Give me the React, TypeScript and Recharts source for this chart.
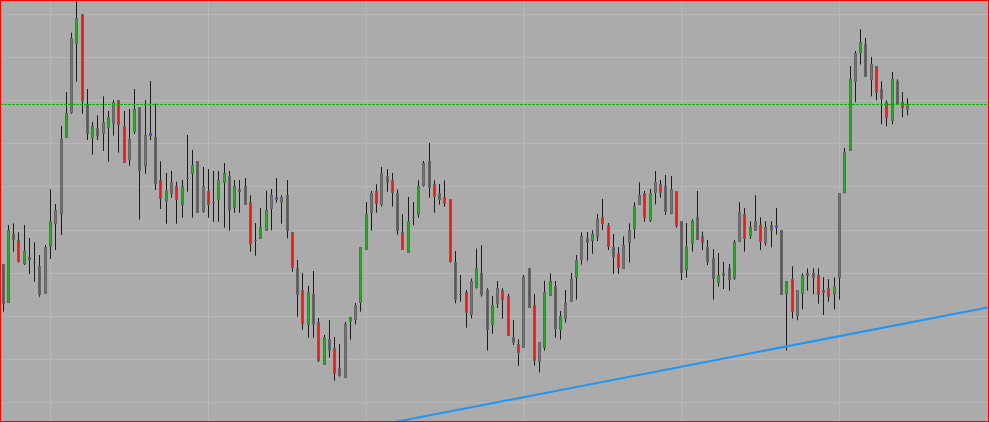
import { ComposedChart, Bar, XAxis, YAxis, CartesianGrid, ReferenceLine } from "recharts"

// price (units: px above the bottom edge)
const open = [
  157.7, 120.3, 187.7, 182, 159.3, 162.5, 159.7, 156, 129.3, 176.3,
  198.7, 209.3, 284.7, 310.3, 379.3, 407.7, 317.7, 284.7, 293.7, 288.7,
  295.3, 299.3, 321.7, 295.7, 263.3, 291.3, 314.7, 256.3, 287.2, 285,
  241.7, 222.3, 228.7, 236, 217.7, 243.7, 248.7, 260.7, 211, 231,
  219.7, 222.7, 239.7, 246, 215.3, 231.2, 236, 219.7, 181.7, 183.7,
  191.7, 213.7, 223.2, 219.7, 226.7, 189.7, 153.7, 131.7, 97.7, 128,
  100, 58.3, 82.7, 73.7, 53.7, 45.3, 101.3, 103.3, 120.3, 172.7,
  209.7, 230.7, 217.7, 245.7, 241.7, 228.7, 189.7, 170.3, 204.7, 207.7,
  237, 260.7, 237.7, 229, 224.7, 222.7, 159.7, 127.7, 129.7, 107.7,
  135.3, 148.7, 131.7, 97.7, 118.7, 131.7, 126, 84.7, 77.7, 75.3,
  154, 117, 60.7, 75.3, 127.3, 135.7, 92.7, 103.7, 120.7, 144.7,
  163.3, 183.7, 181.7, 185.7, 204.7, 197, 174.7, 168.7, 153.7, 179.7,
  194.3, 217.7, 228.7, 202, 230.3, 237.7, 235.7, 209.3, 230.7, 200.7,
  153.3, 179, 204.7, 185.7, 174.7, 163.7, 140.3, 147.2, 153.7, 144.3,
  181.3, 207.7, 187.3, 191.7, 197, 179.7, 197, 195.5, 191.7, 129.3,
  142.7, 107, 129.3, 147.2, 148.7, 146.7, 130.5, 133.7, 127.7, 144.7,
  230.3, 271.7, 340.7, 370.3, 377.7, 342.7, 355.7, 332.7, 319.7, 301.7,
  340.7, 319.7, 312.7,
]

const high = [
  158, 197, 198.7, 189.7, 197, 184, 179.7, 167, 177, 232.7,
  218, 296, 330, 389.3, 422, 407.7, 333, 300, 306.7, 325.7,
  311, 322, 321.7, 311, 313, 333, 314.7, 322, 341, 318.3,
  260.7, 249, 251, 240.3, 242, 287, 272, 260.7, 255, 253,
  251, 251, 259, 251, 242, 242, 244, 226.7, 199, 214,
  231.3, 233, 244, 226.7, 242, 189.7, 162, 149, 136, 151,
  104, 87, 102, 85, 78, 100, 105.3, 119, 174.7, 220,
  231, 237.7, 255, 253, 249, 232.7, 207.7, 225, 220, 241.7,
  261, 279, 241.7, 238, 241.7, 222.7, 171, 147, 132, 143.3,
  173.3, 176.7, 133.7, 126, 141, 133.7, 128, 102, 82.7, 147,
  154, 128, 79.7, 141.3, 148.7, 141, 111, 132, 149, 167,
  189.7, 190, 191.7, 208, 223, 199, 188, 175, 185.7, 198.7,
  219.7, 239.7, 231, 233, 251, 242, 247, 246, 230.7, 200.7,
  199, 202.7, 231, 190.3, 182, 172.7, 169, 160, 158, 182,
  219.7, 214, 200.7, 226.7, 204.7, 200.7, 200.7, 214, 191.7, 141,
  155.7, 131.7, 148.7, 153.7, 153.7, 153.7, 144.7, 142.7, 144.7, 228.7,
  274, 356, 371, 392.7, 384, 365, 355.7, 340.7, 321.7, 350,
  342.7, 330, 323.7,
]

const low = [
  110.3, 120.3, 170.3, 159.3, 157, 148, 140.3, 125.3, 129.3, 163,
  172, 187, 284.7, 308.3, 340.3, 308.3, 282, 267.3, 282, 271,
  260.3, 286.3, 269.3, 260.3, 256.3, 288, 202.3, 248.3, 282, 232,
  213, 198.3, 224.3, 198.3, 204.3, 230.3, 204.3, 209.7, 209.3, 204.3,
  200.3, 200.3, 194.3, 191.3, 209.3, 209.3, 217.7, 170.3, 166.3, 183.7,
  191.7, 191.7, 219.3, 198.3, 183.7, 150.3, 105.3, 92.3, 84.3, 84.3,
  60, 58.3, 64.3, 41.3, 45.3, 45.3, 82.3, 97.7, 110.3, 172.7,
  191.3, 209.3, 215.3, 230.3, 215.3, 187.3, 172.7, 170.3, 196.7, 204.3,
  235.3, 224.3, 209.3, 217.3, 215.3, 159.3, 118.7, 120.3, 94.3, 103.7,
  133.3, 125.3, 71.3, 88.3, 114, 103.3, 86.7, 77, 56.3, 75.3,
  114.7, 56.3, 49.7, 71.3, 127.3, 84.3, 82.3, 99.3, 120.7, 122.3,
  157.3, 161.3, 168.3, 181, 191.7, 172, 148.3, 148.3, 153.7, 159.3,
  183.3, 217.7, 200.3, 200, 217.7, 224.3, 207, 207.7, 194.3, 142,
  144.3, 170.3, 183.3, 172, 157, 122.3, 135.3, 133, 131.3, 142.3,
  181.3, 170.3, 183, 191.7, 172, 176.3, 174.7, 187.3, 127.7, 71.3,
  103.3, 101.7, 112.7, 131.3, 127.7, 118.3, 107, 120.3, 112.7, 122.3,
  228.7, 271.7, 319.7, 357.3, 345.7, 325.7, 321.7, 297.7, 295.7, 297.7,
  318, 304.7, 306.7,
]

const close = [
  118.7, 192, 183.3, 161.3, 171, 163.5, 159.7, 127.7, 175, 201,
  212, 282.7, 308.7, 383.7, 403.7, 322, 288.7, 295.7, 286.7, 299.7,
  305, 320, 297.7, 260.3, 282.7, 313, 252.3, 286.7, 288.2, 239.3,
  224.3, 231, 239.7, 222.7, 236, 243.7, 257, 209.7, 236, 217.7,
  219.7, 241.7, 249, 211.7, 236, 232.2, 217.7, 179.3, 181.7, 194.7,
  212, 226.7, 224.2, 225, 191.7, 155.3, 127.7, 99.3, 129.7, 97.7,
  62, 85, 71.7, 49.3, 47, 98, 105.3, 116.7, 174.7, 207.7,
  229.3, 219.3, 248.7, 239.7, 230.3, 192, 172.7, 200.7, 204.7, 235.7,
  259, 235.3, 226.3, 222.7, 219.3, 161.3, 122.7, 127.7, 110.3, 141,
  153.7, 127.7, 92.7, 116.7, 133.7, 122.7, 86.7, 79.7, 69.7, 145,
  114.7, 62, 79.7, 129.7, 140.7, 94.3, 106, 118.7, 143, 162,
  185.7, 179.7, 187.7, 202.7, 198.7, 176.3, 166.3, 155.3, 176.7, 191.7,
  215.7, 226.7, 204.7, 228.7, 239.7, 230.3, 211.3, 232.7, 196.7, 150.3,
  174.7, 200.7, 183.3, 179.7, 161.3, 144.3, 146.7, 148.2, 142.7, 179.7,
  209.7, 183.7, 194.7, 200.7, 181.3, 194.7, 191.7, 196.5, 127.7, 141,
  110.7, 131.7, 146.7, 148.2, 144.7, 127.7, 131.5, 125.7, 135.7, 228.7,
  269.7, 342.7, 368.7, 379.7, 345.7, 357.7, 329.7, 323.7, 304.7, 342.7,
  318, 314.7, 317.7,
]

const priceGrid = [19.5, 62.5, 105.5, 148.5, 191.5, 235.5, 278.5, 321.5, 364.5, 407.5]
const timeGrid = [10, 40, 70, 100, 130, 160]
const level = 317.5
const trendFrom = { x: 75.47, y: 0 }
const trendTo = { x: 188.4, y: 114.7 }

const data = open.map((o, k) => ({
  i: k + 1,
  open: o,
  high: high[k],
  low: low[k],
  close: close[k],
}))

const BG = "#ababab"
const EDGE = "#666666"

function Candle(props: any) {
  const { x, y, width, height, payload } = props
  if (!payload) return null
  const top = Math.min(y, y + height)
  const h = Math.abs(height)
  const range = payload.high - payload.low || 1
  const yOf = (v: number) => top + ((payload.high - v) / range) * h
  const cx = Math.floor(x + width / 2) + 0.5
  const snap = (v: number) => Math.round(v) + 0.5
  const hi = Math.max(payload.open, payload.close)
  const lo = Math.min(payload.open, payload.close)
  const diff = hi - lo
  const yTop = snap(yOf(hi))
  const yBot = snap(yOf(lo))

  let body
  if (diff === 0) {
    body = <line x1={cx - 1.5} x2={cx + 1.5} y1={yTop} y2={yTop} stroke={EDGE} strokeWidth={1} />
  } else if (diff <= 1.2) {
    body = <rect x={cx - 1} y={yTop - 1} width={2} height={2} fill="#2828e0" stroke={EDGE} strokeWidth={1} />
  } else {
    const fill = payload.close > payload.open ? "#22b022" : "#f01818"
    body = <rect x={cx - 1} y={yTop} width={2} height={Math.max(yBot - yTop, 1)} fill={fill} stroke={EDGE} strokeWidth={1} />
  }

  return (
    <g>
      <line x1={cx} x2={cx} y1={top} y2={top + h} stroke="#1c1c1c" strokeWidth={1} />
      {body}
    </g>
  )
}

export default function App() {
  return (
    <div style={{ position: "absolute", left: 0, top: 0, width: 989, height: 422, background: BG }}>
      <ComposedChart width={989} height={422} data={data} margin={{ top: 0, right: 0, bottom: 0, left: 0 }}>
        <CartesianGrid stroke="#b8b8b8" horizontalValues={priceGrid} verticalValues={timeGrid} />
        <XAxis dataKey="i" type="number" domain={[0.373, 188.4]} allowDataOverflow hide />
        <YAxis type="number" domain={[0, 422]} allowDataOverflow hide />
        <ReferenceLine y={level} stroke="#1fa51f" strokeDasharray="3 1" strokeWidth={1} />
        <Bar
          dataKey={(d: any) => [d.low, d.high]}
          barSize={3}
          shape={Candle}
          isAnimationActive={false}
        />
        <ReferenceLine
          segment={[trendFrom, trendTo]}
          stroke="#2196f3"
          strokeWidth={2}
          ifOverflow="visible"
        />
      </ComposedChart>
      <div
        style={{
          position: "absolute",
          inset: 0,
          border: "1px solid #ff0000",
          boxSizing: "border-box",
          pointerEvents: "none",
        }}
      />
    </div>
  )
}
